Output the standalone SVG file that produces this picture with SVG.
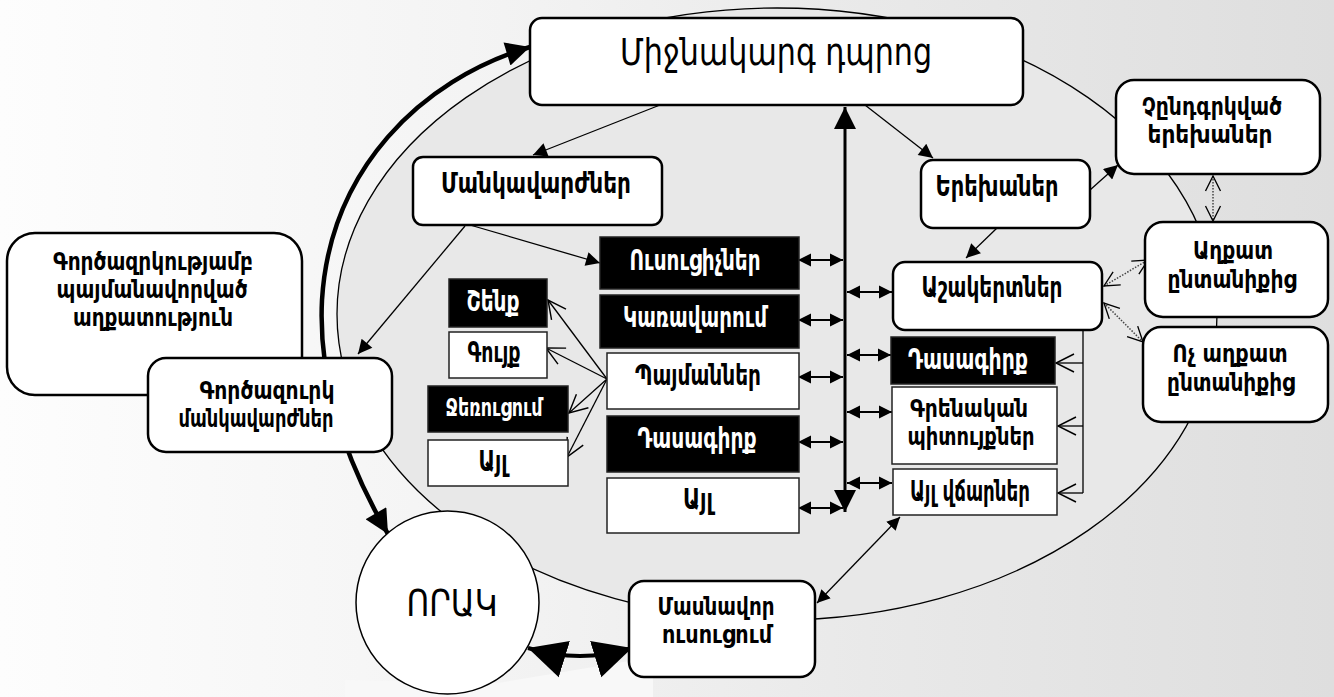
<svg xmlns="http://www.w3.org/2000/svg" width="1334" height="697" viewBox="0 0 1334 697">
<defs>
<linearGradient id="bg" x1="0" y1="0" x2="1" y2="0">
<stop offset="0" stop-color="#fdfdfd"/>
<stop offset="0.35" stop-color="#f4f4f4"/>
<stop offset="0.65" stop-color="#e9e9e9"/>
<stop offset="1" stop-color="#dedede"/>
</linearGradient>
<marker id="a" viewBox="0 0 10 10" refX="10" refY="5" markerWidth="18" markerHeight="14" markerUnits="userSpaceOnUse" orient="auto-start-reverse"><path d="M0,0 L10,5 L0,10 z" fill="#000"/></marker>
<marker id="s" viewBox="0 0 10 10" refX="10" refY="5" markerWidth="13" markerHeight="16" markerUnits="userSpaceOnUse" orient="auto-start-reverse"><path d="M0,0 L10,5 L0,10 z" fill="#000"/></marker>
<marker id="b" viewBox="0 0 10 10" refX="10" refY="5" markerWidth="28" markerHeight="24" markerUnits="userSpaceOnUse" orient="auto-start-reverse"><path d="M0,0 L10,5 L0,10 z" fill="#000"/></marker>
<marker id="v" viewBox="0 0 10 10" refX="10" refY="5" markerWidth="22" markerHeight="24" markerUnits="userSpaceOnUse" orient="auto-start-reverse"><path d="M0,0 L10,5 L0,10 z" fill="#000"/></marker>
<marker id="q" viewBox="0 0 10 10" refX="10" refY="5" markerWidth="38" markerHeight="40" markerUnits="userSpaceOnUse" orient="auto-start-reverse"><path d="M0,0 L10,5 L0,10 z" fill="#000"/></marker>
<marker id="o" viewBox="0 0 10 10" refX="10" refY="5" markerWidth="18" markerHeight="18" markerUnits="userSpaceOnUse" orient="auto-start-reverse" overflow="visible"><path d="M0,0 L10,5 L0,10" fill="none" stroke="#000" stroke-width="0.8"/></marker>
<marker id="od" viewBox="0 0 10 10" refX="10" refY="5" markerWidth="15" markerHeight="15" markerUnits="userSpaceOnUse" orient="auto-start-reverse" overflow="visible"><path d="M0,0 L10,5 L0,10" fill="none" stroke="#000" stroke-width="0.9"/></marker>
</defs>
<style>
.rb{fill:#fff;stroke:#000;stroke-width:2.5}
.sq{fill:#fff;stroke:#222;stroke-width:1.5}
.bk{fill:#000;stroke:#222;stroke-width:1.5}
.t{font-family:"DejaVu Sans","Noto Sans",sans-serif;font-weight:bold;font-size:29px;text-anchor:middle;fill:#000}
.m{font-size:24px}
.s3{font-size:24px}
.big{font-size:38px;font-weight:normal}
.ork{font-size:37px;font-weight:normal}
.w{fill:#fff}
.ln{stroke:#000;stroke-width:1.3;fill:none}
.dt{stroke:#444;stroke-width:1.5;stroke-dasharray:1.5 1.5;fill:none}
</style>
<rect x="0" y="0" width="1334" height="697" fill="url(#bg)"/>
<polygon points="345,697 345,680 498,683 653,657 653,697" fill="#f8f8f8"/>
<ellipse id="frame" cx="777" cy="314" rx="440" ry="306" fill="#e8e8e8" stroke="#000" stroke-width="1.3"/>

<g id="connectors">
<path class="ln" d="M660 105 L533 155" marker-end="url(#a)"/>
<path class="ln" d="M865 105 L933 158" marker-end="url(#a)"/>
<path class="ln" d="M1090 190 L1118 165" marker-end="url(#a)"/>
<path class="ln" d="M997 228 L966 258" marker-end="url(#a)"/>
<path class="ln" d="M470 225 L600 263" marker-end="url(#a)"/>
<path class="ln" d="M465 226 L358 354" marker-end="url(#a)"/>
<path d="M530 47 C420 80 330 170 322 300 C318 380 345 460 388 534" fill="none" stroke="#000" stroke-width="4.5" marker-start="url(#b)" marker-end="url(#b)"/>
<path d="M845 107 L845 512" fill="none" stroke="#000" stroke-width="3" marker-start="url(#v)" marker-end="url(#v)"/>
<g stroke="#000" stroke-width="2" fill="none">
<path d="M798 260 L843 260" marker-start="url(#s)" marker-end="url(#s)"/>
<path d="M798 320 L843 320" marker-start="url(#s)" marker-end="url(#s)"/>
<path d="M798 377 L843 377" marker-start="url(#s)" marker-end="url(#s)"/>
<path d="M798 442 L843 442" marker-start="url(#s)" marker-end="url(#s)"/>
<path d="M798 508 L843 508" marker-start="url(#s)" marker-end="url(#s)"/>
<path d="M847 292 L892 292" marker-start="url(#s)" marker-end="url(#s)"/>
<path d="M847 355 L891 355" marker-start="url(#s)" marker-end="url(#s)"/>
<path d="M847 412 L892 412" marker-start="url(#s)" marker-end="url(#s)"/>
<path d="M847 483 L892 483" marker-start="url(#s)" marker-end="url(#s)"/>
</g>
<path class="ln" d="M607 379 L548 300" marker-end="url(#o)"/>
<path class="ln" d="M607 379 L546 348" marker-end="url(#o)"/>
<path class="ln" d="M607 379 L569 413" marker-end="url(#o)"/>
<path class="ln" d="M607 379 L567 457" marker-end="url(#o)"/>
<path class="ln" d="M1083 328 L1083 493"/>
<path class="ln" d="M1083 363 L1056 363" marker-end="url(#o)"/>
<path class="ln" d="M1083 426 L1058 426" marker-end="url(#o)"/>
<path class="ln" d="M1083 493 L1058 493" marker-end="url(#o)"/>
<path class="dt" d="M1213 176 L1213 221" marker-start="url(#od)" marker-end="url(#od)"/>
<path class="dt" d="M1104 286 L1148 260" marker-start="url(#od)" marker-end="url(#od)"/>
<path class="dt" d="M1104 303 L1143 342" marker-start="url(#od)" marker-end="url(#od)"/>
<path class="ln" d="M817 603 L900 517" marker-start="url(#s)" marker-end="url(#s)"/>
<path d="M528 648 Q580 664 632 648" fill="none" stroke="#000" stroke-width="4" marker-start="url(#q)" marker-end="url(#q)"/>
</g>

<g id="n-school"><rect class="rb" x="530" y="18" width="493" height="87" rx="12"/><text class="t big" x="776" y="65" textLength="312" lengthAdjust="spacingAndGlyphs">Միջնակարգ դպրոց</text></g>
<g id="n-teachers"><rect class="rb" x="413" y="157" width="249" height="68" rx="10"/><text class="t" x="536" y="193" textLength="190" lengthAdjust="spacingAndGlyphs">Մանկավարժներ</text></g>
<g id="n-children"><rect class="rb" x="921" y="160" width="169" height="68" rx="12"/><text class="t" x="997" y="196" textLength="123" lengthAdjust="spacingAndGlyphs">Երեխաներ</text></g>
<g id="n-outchildren"><rect class="rb" x="1116" y="80" width="204" height="94" rx="18"/><text class="t m" x="1212" y="115" textLength="140" lengthAdjust="spacingAndGlyphs">Չընդգրկված</text><text class="t m" x="1210" y="143" textLength="125" lengthAdjust="spacingAndGlyphs">երեխաներ</text></g>
<g id="n-poor"><rect class="rb" x="1145" y="222" width="183" height="95" rx="18"/><text class="t m" x="1233" y="259" textLength="80" lengthAdjust="spacingAndGlyphs">Աղքատ</text><text class="t m" x="1232" y="288" textLength="129" lengthAdjust="spacingAndGlyphs">ընտանիքից</text></g>
<g id="n-nonpoor"><rect class="rb" x="1143" y="327" width="185" height="95" rx="18"/><text class="t m" x="1230" y="362" textLength="115" lengthAdjust="spacingAndGlyphs">Ոչ աղքատ</text><text class="t m" x="1231" y="391" textLength="128" lengthAdjust="spacingAndGlyphs">ընտանիքից</text></g>
<g id="n-pupils"><rect class="rb" x="893" y="262" width="209" height="68" rx="12"/><text class="t" x="992" y="297" textLength="141" lengthAdjust="spacingAndGlyphs">Աշակերտներ</text></g>
<g id="n-textbook2"><rect class="bk" x="891" y="337" width="164" height="47"/><text class="t w" x="968" y="369" textLength="120" lengthAdjust="spacingAndGlyphs">Դասագիրք</text></g>
<g id="n-supplies"><rect class="sq" x="892" y="387" width="165" height="77"/><text class="t m" x="969" y="417" textLength="118" lengthAdjust="spacingAndGlyphs">Գրենական</text><text class="t m" x="971" y="445" textLength="127" lengthAdjust="spacingAndGlyphs">պիտույքներ</text></g>
<g id="n-otherfees"><rect class="sq" x="893" y="469" width="164" height="46"/><text class="t" x="970" y="501" textLength="120" lengthAdjust="spacingAndGlyphs">Այլ վճարներ</text></g>
<g id="n-teachers2"><rect class="bk" x="600" y="237" width="199" height="52"/><text class="t w" x="695" y="270" textLength="131" lengthAdjust="spacingAndGlyphs">Ուսուցիչներ</text></g>
<g id="n-management"><rect class="bk" x="600" y="295" width="199" height="53"/><text class="t w" x="695" y="327" textLength="144" lengthAdjust="spacingAndGlyphs">Կառավարում</text></g>
<g id="n-conditions"><rect class="sq" x="607" y="353" width="192" height="56"/><text class="t" x="698" y="385" textLength="126" lengthAdjust="spacingAndGlyphs">Պայմաններ</text></g>
<g id="n-textbook"><rect class="bk" x="607" y="416" width="192" height="56"/><text class="t w" x="697" y="448" textLength="119" lengthAdjust="spacingAndGlyphs">Դասագիրք</text></g>
<g id="n-other"><rect class="sq" x="607" y="478" width="192" height="55"/><text class="t" x="698" y="509" textLength="30" lengthAdjust="spacingAndGlyphs">Այլ</text></g>
<g id="n-building"><rect class="bk" x="449" y="279" width="98" height="48"/><text class="t w" x="493" y="311" textLength="53" lengthAdjust="spacingAndGlyphs">Շենք</text></g>
<g id="n-property"><rect class="sq" x="449" y="332" width="98" height="46"/><text class="t" x="494" y="362" textLength="53" lengthAdjust="spacingAndGlyphs">Գույք</text></g>
<g id="n-heating"><rect class="bk" x="428" y="386" width="140" height="46"/><text class="t w s3" x="494" y="416" textLength="97" lengthAdjust="spacingAndGlyphs">Ջեռուցում</text></g>
<g id="n-other2"><rect class="sq" x="428" y="440" width="140" height="46"/><text class="t" x="493" y="471" textLength="29" lengthAdjust="spacingAndGlyphs">Այլ</text></g>
<g id="n-poverty"><rect class="rb" x="7" y="233" width="295" height="162" rx="28"/><text class="t s3" x="153" y="270" textLength="200" lengthAdjust="spacingAndGlyphs">Գործազրկությամբ</text><text class="t s3" x="152" y="298" textLength="191" lengthAdjust="spacingAndGlyphs">պայմանավորված</text><text class="t s3" x="153" y="326" textLength="160" lengthAdjust="spacingAndGlyphs">աղքատություն</text></g>
<g id="n-unemployed"><rect class="rb" x="148" y="358" width="244" height="94" rx="18"/><text class="t m" x="267" y="399" textLength="135" lengthAdjust="spacingAndGlyphs">Գործազուրկ</text><text class="t m" x="256" y="427" textLength="155" lengthAdjust="spacingAndGlyphs">մանկավարժներ</text></g>
<g id="n-quality"><circle cx="447.5" cy="602.5" r="91.5" fill="#fff" stroke="#000" stroke-width="1.5"/><text class="t ork" x="452" y="616" textLength="91" lengthAdjust="spacingAndGlyphs">ՈՐԱԿ</text></g>
<g id="n-tutoring"><rect class="rb" x="629" y="581" width="186" height="96" rx="15"/><text class="t m" x="716" y="615" textLength="117" lengthAdjust="spacingAndGlyphs">Մասնավոր</text><text class="t m" x="717" y="643" textLength="110" lengthAdjust="spacingAndGlyphs">ուսուցում</text></g>
</svg>
